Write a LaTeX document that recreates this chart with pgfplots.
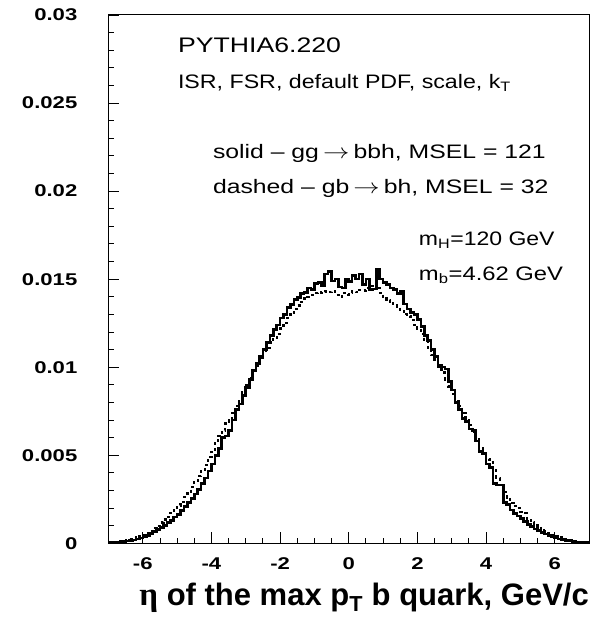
\documentclass[border=0pt]{standalone}
\usepackage{pgfplots}
\pgfplotsset{compat=1.18}
\usepackage{pgfplotstable}
\usepackage{graphicx}
\usepackage{fontspec}
\setmainfont{Liberation Sans}
\newfontfamily\serifgreek{Liberation Serif}
\newcommand{\hs}[2][1.22]{\scalebox{#1}[1]{#2}}
\newcommand{\tl}[1]{\hs[1.3]{#1}}

\pgfplotstableread{
x y
-7.0 0.00004
-6.9 0.00005
-6.8 0.00006
-6.7 0.00008
-6.6 0.00010
-6.5 0.00012
-6.4 0.00015
-6.3 0.00019
-6.2 0.00024
-6.1 0.00029
-6.0 0.00035
-5.9 0.00045
-5.8 0.00055
-5.7 0.00068
-5.6 0.00078
-5.5 0.00090
-5.4 0.00100
-5.3 0.00118
-5.2 0.00130
-5.1 0.00150
-5.0 0.00165
-4.9 0.00185
-4.8 0.00210
-4.7 0.00232
-4.6 0.00255
-4.5 0.00280
-4.4 0.00305
-4.3 0.00340
-4.2 0.00370
-4.1 0.00410
-4.0 0.00450
-3.9 0.00500
-3.8 0.00540
-3.7 0.00600
-3.6 0.00610
-3.5 0.00640
-3.4 0.00700
-3.3 0.00760
-3.2 0.00790
-3.1 0.00840
-3.0 0.00885
-2.9 0.00930
-2.8 0.00980
-2.7 0.01020
-2.6 0.01060
-2.5 0.01100
-2.4 0.01140
-2.3 0.01180
-2.2 0.01215
-2.1 0.01240
-2.0 0.01280
-1.9 0.01300
-1.8 0.01340
-1.7 0.01355
-1.6 0.01385
-1.5 0.01395
-1.4 0.01420
-1.3 0.01425
-1.2 0.01450
-1.1 0.01440
-1.0 0.01475
-0.9 0.01480
-0.8 0.01460
-0.7 0.01530
-0.6 0.01545
-0.5 0.01490
-0.4 0.01500
-0.3 0.01455
-0.2 0.01450
-0.1 0.01500
0.0 0.01485
0.1 0.01520
0.2 0.01500
0.3 0.01530
0.4 0.01470
0.5 0.01500
0.6 0.01440
0.7 0.01445
0.8 0.01555
0.9 0.01500
1.0 0.01480
1.1 0.01470
1.2 0.01450
1.3 0.01440
1.4 0.01420
1.5 0.01430
1.6 0.01360
1.7 0.01330
1.8 0.01310
1.9 0.01300
2.0 0.01270
2.1 0.01230
2.2 0.01180
2.3 0.01150
2.4 0.01100
2.5 0.01060
2.6 0.01010
2.7 0.01000
2.8 0.00990
2.9 0.00920
3.0 0.00870
3.1 0.00800
3.2 0.00760
3.3 0.00710
3.4 0.00690
3.5 0.00650
3.6 0.00640
3.7 0.00580
3.8 0.00520
3.9 0.00510
4.0 0.00450
4.1 0.00430
4.2 0.00340
4.3 0.00330
4.4 0.00330
4.5 0.00230
4.6 0.00220
4.7 0.00190
4.8 0.00170
4.9 0.00155
5.0 0.00140
5.1 0.00125
5.2 0.00108
5.3 0.00095
5.4 0.00082
5.5 0.00072
5.6 0.00062
5.7 0.00052
5.8 0.00044
5.9 0.00037
6.0 0.00031
6.1 0.00025
6.2 0.00020
6.3 0.00016
6.4 0.00013
6.5 0.00010
6.6 0.00008
6.7 0.00006
6.8 0.00005
6.9 0.00004
7.0 0.00004
}\solid

\pgfplotstableread{
x y
-7.0 0.00005
-6.9 0.00007
-6.8 0.00009
-6.7 0.00011
-6.6 0.00014
-6.5 0.00018
-6.4 0.00022
-6.3 0.00027
-6.2 0.00033
-6.1 0.00040
-6.0 0.00048
-5.9 0.00060
-5.8 0.00072
-5.7 0.00088
-5.6 0.00100
-5.5 0.00118
-5.4 0.00135
-5.3 0.00150
-5.2 0.00170
-5.1 0.00190
-5.0 0.00215
-4.9 0.00235
-4.8 0.00265
-4.7 0.00290
-4.6 0.00320
-4.5 0.00350
-4.4 0.00380
-4.3 0.00410
-4.2 0.00445
-4.1 0.00490
-4.0 0.00520
-3.9 0.00570
-3.8 0.00610
-3.7 0.00640
-3.6 0.00680
-3.5 0.00700
-3.4 0.00740
-3.3 0.00780
-3.2 0.00820
-3.1 0.00860
-3.0 0.00900
-2.9 0.00940
-2.8 0.00980
-2.7 0.01010
-2.6 0.01050
-2.5 0.01080
-2.4 0.01110
-2.3 0.01140
-2.2 0.01160
-2.1 0.01190
-2.0 0.01220
-1.9 0.01250
-1.8 0.01280
-1.7 0.01310
-1.6 0.01330
-1.5 0.01350
-1.4 0.01370
-1.3 0.01390
-1.2 0.01400
-1.1 0.01410
-1.0 0.01420
-0.9 0.01425
-0.8 0.01420
-0.7 0.01430
-0.6 0.01425
-0.5 0.01430
-0.4 0.01410
-0.3 0.01400
-0.2 0.01420
-0.1 0.01410
0.0 0.01420
0.1 0.01430
0.2 0.01425
0.3 0.01440
0.4 0.01435
0.5 0.01450
0.6 0.01460
0.7 0.01470
0.8 0.01450
0.9 0.01420
1.0 0.01390
1.1 0.01380
1.2 0.01370
1.3 0.01350
1.4 0.01340
1.5 0.01320
1.6 0.01300
1.7 0.01290
1.8 0.01270
1.9 0.01240
2.0 0.01220
2.1 0.01190
2.2 0.01150
2.3 0.01110
2.4 0.01070
2.5 0.01040
2.6 0.01000
2.7 0.00970
2.8 0.00930
2.9 0.00890
3.0 0.00850
3.1 0.00810
3.2 0.00780
3.3 0.00740
3.4 0.00700
3.5 0.00670
3.6 0.00630
3.7 0.00590
3.8 0.00550
3.9 0.00510
4.0 0.00480
4.1 0.00460
4.2 0.00420
4.3 0.00370
4.4 0.00330
4.5 0.00290
4.6 0.00260
4.7 0.00230
4.8 0.00210
4.9 0.00200
5.0 0.00180
5.1 0.00170
5.2 0.00140
5.3 0.00120
5.4 0.00110
5.5 0.00095
5.6 0.00085
5.7 0.00070
5.8 0.00058
5.9 0.00047
6.0 0.00040
6.1 0.00033
6.2 0.00028
6.3 0.00022
6.4 0.00017
6.5 0.00013
6.6 0.00010
6.7 0.00008
6.8 0.00006
6.9 0.00005
7.0 0.00005
}\dashed

\begin{document}
\begin{tikzpicture}
\path[use as bounding box] (-108.5pt,-77.7pt) rectangle (483.5pt,543.3pt);
\begin{axis}[
  at={(0pt,0pt)}, anchor=south west,
  scale only axis, width=480.5pt, height=528.3pt,
  xmin=-7, xmax=7, ymin=0, ymax=0.03,
  axis line style={line width=1pt},
  tick pos=left, tick align=inside,
  major tick length=11pt, minor tick length=5.5pt,
  every tick/.style={black, line width=0.9pt},
  xtick={-6,-4,-2,0,2,4,6},
  xticklabels={\tl{-6},\tl{-4},\tl{-2},\tl{0},\tl{2},\tl{4},\tl{6}},
  minor x tick num=3,
  ytick={0,0.005,0.01,0.015,0.02,0.025,0.03},
  yticklabels={\tl{0},\tl{0.005},\tl{0.01},\tl{0.015},\tl{0.02},\tl{0.025},\tl{0.03}},
  minor y tick num=4,
  scaled y ticks=false, scaled x ticks=false,
  xticklabel style={font=\fontsize{17}{17}\selectfont\bfseries, inner sep=0pt, anchor=north, yshift=-14.5pt},
  yticklabel style={font=\fontsize{17}{17}\selectfont\bfseries, inner sep=0pt, anchor=east, xshift=-31pt},
  xlabel={{\serifgreek\fontsize{33}{33}\selectfont η} of the max p\textsubscript{T} b quark, GeV/c},
  xlabel style={font=\fontsize{31}{31}\selectfont\bfseries, at={(axis description cs:1,0)}, anchor=base east, inner sep=0pt, yshift=-61.7pt},
  clip=true,
]
\addplot[const plot mark left, black, line width=2.6pt] table[x=x,y=y] {\solid};
\addplot[const plot mark left, black, line width=2.2pt, dash pattern=on 3pt off 3pt] table[x=x,y=y] {\dashed};

\node[anchor=base west, inner sep=0pt] at (axis cs:-4.98,0.02789) {\resizebox{163pt}{14.7pt}{PYTHIA6.220}};
\node[anchor=base west, inner sep=0pt] at (axis cs:-4.98,0.02584) {\fontsize{19.5}{19.5}\selectfont\hs[1.19]{ISR, FSR, default PDF, scale, k\textsubscript{T}}};
\node[anchor=base west, inner sep=0pt] at (axis cs:-3.96,0.02187) {\fontsize{19.5}{19.5}\selectfont\hs[1.27]{solid -- gg\,$\rightarrow$\,bbh, MSEL = 121}};
\node[anchor=base west, inner sep=0pt] at (axis cs:-3.96,0.01984) {\fontsize{19.5}{19.5}\selectfont\hs[1.27]{dashed -- gb\,$\rightarrow$\,bh, MSEL = 32}};
\node[anchor=base west, inner sep=0pt] at (axis cs:2.04,0.01689) {\fontsize{19.5}{19.5}\selectfont\hs[1.18]{m\textsubscript{H}=120 GeV}};
\node[anchor=base west, inner sep=0pt] at (axis cs:2.04,0.01491) {\fontsize{19.5}{19.5}\selectfont\hs[1.22]{m\textsubscript{b}=4.62 GeV}};
\end{axis}
\end{tikzpicture}
\end{document}
